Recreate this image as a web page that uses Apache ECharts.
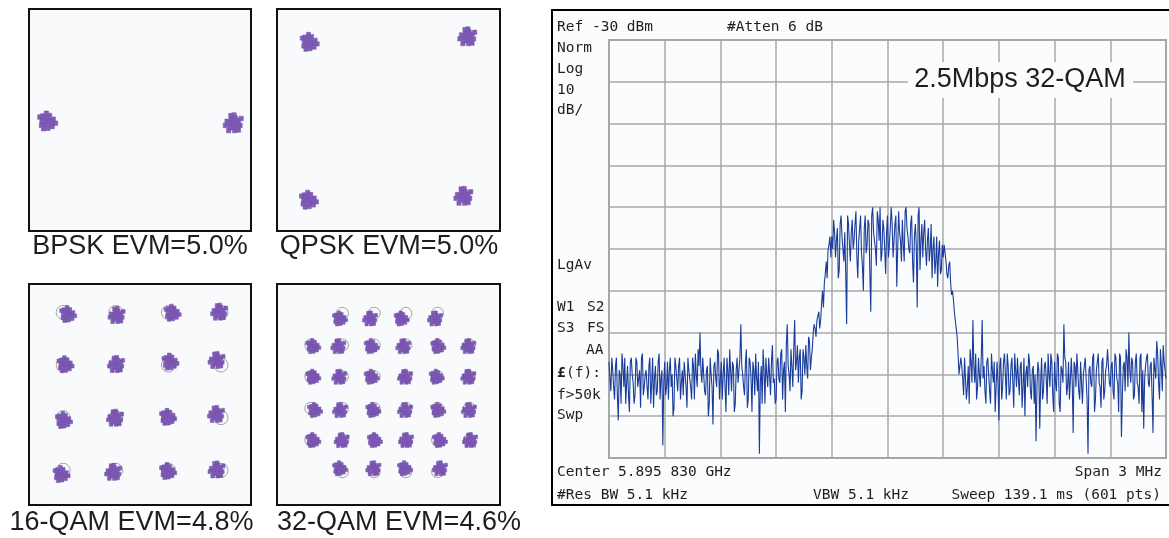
<!DOCTYPE html>
<html><head><meta charset="utf-8">
<script src="https://cdn.jsdelivr.net/npm/echarts/dist/echarts.min.js"></script>
<style>html,body{margin:0;padding:0;background:#fff}#c{width:1169px;height:538px}</style>
</head><body><div id="c"></div>
<script>
// ---------- DATA ----------
const panelTitles = ['BPSK EVM=5.0%', 'QPSK EVM=5.0%', '16-QAM EVM=4.8%', '32-QAM EVM=4.6%'];

const bpskClusters = [[-0.99, -0.01], [1.0, -0.03]];
const qpskClusters = [[-1.01, 1.0], [1.01, 1.07], [-1.02, -1.02], [0.96, -0.97]];

const qam16Clusters = [
  [-2.81, 2.94], [-0.97, 2.90], [1.16, 2.99], [2.93, 3.03],
  [-2.91, 1.03], [-0.99, 1.04], [1.08, 1.13], [2.83, 1.19],
  [-2.97, -1.09], [-1.03, -1.00], [0.99, -0.97], [2.81, -0.86],
  [-3.06, -3.14], [-1.10, -3.06], [0.99, -3.03], [2.83, -2.97]
];
const qam16Ideal = [
  [-3, 3], [-1, 3], [1, 3], [3, 3],
  [-3, 1], [-1, 1], [1, 1], [3, 1],
  [-3, -1], [-1, -1], [1, -1], [3, -1],
  [-3, -3], [-1, -3], [1, -3], [3, -3]
];

const qam32Clusters = [
  [-3.15, 4.68], [-1.26, 4.68], [0.74, 4.68], [2.84, 4.68],
  [-4.84, 2.93], [-3.26, 2.93], [-1.15, 2.93], [0.84, 2.93], [3.05, 2.93], [4.94, 2.93],
  [-4.84, 1.00], [-3.20, 1.00], [-1.15, 1.00], [0.95, 1.00], [2.95, 1.00], [4.94, 1.00],
  [-4.73, -1.10], [-3.15, -1.10], [-1.05, -1.10], [0.95, -1.10], [3.05, -1.10], [4.98, -1.10],
  [-4.84, -3.00], [-3.05, -3.00], [-0.95, -3.00], [1.01, -3.00], [3.15, -3.00], [5.05, -3.00],
  [-3.15, -4.78], [-1.05, -4.78], [0.95, -4.78], [3.15, -4.78]
];
const qam32Ideal = [
  [-3, 5], [-1, 5], [1, 5], [3, 5],
  [-5, 3], [-3, 3], [-1, 3], [1, 3], [3, 3], [5, 3],
  [-5, 1], [-3, 1], [-1, 1], [1, 1], [3, 1], [5, 1],
  [-5, -1], [-3, -1], [-1, -1], [1, -1], [3, -1], [5, -1],
  [-5, -3], [-3, -3], [-1, -3], [1, -3], [3, -3], [5, -3],
  [-3, -5], [-1, -5], [1, -5], [3, -5]
];

// spectrum trace, dBm: even sweep points (301) ...
const noiseLeft = [
  -107,-114,-109,-116,-106,-121,-110,-105,-113,-117,
  -108,-119,-106,-112,-115,-107,-111,-118,-105,-113,
  -109,-116,-106,-112,-118,-108,-114,-105,-111,-127,
  -107,-113,-116,-106,-110,-118,-108,-114,-106,-112,
  -115,-107,-118,-109,-113,-106,-116,-110,-104,-100,
  -112,-106,-115,-108,-117,-110,-122,-107,-113,-105,
  -111,-116,-106,-119,-109,-104,-114,-108,-117,-106,
  -112,-98,-110,-115,-104,-116,-107,-119,-109,-105,
  -114,-129,-108,-104,-117,-110,-106,-115,-103,-111,
  -116,-106,-112,-104,-109,-119,-98,-110,-104,-113,
  -97,-107,-112,-104,-114,-106,-103,-111,-102,-106,-100
];
const risingEdge = [-99,-97,-95,-97,-90,-88,-83,-80,-77];
const plateau = [
  -77,-73,-82,-75,-85,-72,-80,-76,-98,-74,
  -83,-73,-78,-71,-87,-75,-81,-90,-72,-79,
  -74,-95,-70,-78,-84,-73,-70,-81,-75,-86,
  -72,-79,-70,-82,-74,-89,-71,-78,-73,-83,
  -70,-77,-81,-72,-88,-74,-94,-70,-78,-82,
  -73,-84,-75,-80,-87,-77,-83,-89,-78,-85,-82
];
const fallingEdge = [-81,-86,-84,-88,-90,-95,-99,-105,-108];
const noiseRight = [
  -108,-115,-106,-113,-117,-107,-97,-112,-116,-106,
  -113,-97,-108,-117,-106,-114,-105,-112,-119,-107,
  -121,-106,-113,-105,-116,-108,-114,-106,-118,-109,
  -106,-115,-107,-113,-120,-108,-105,-114,-109,-117,
  -126,-107,-123,-106,-114,-107,-117,-110,-105,-115,
  -107,-114,-106,-119,-109,-98,-107,-113,-116,-106,
  -124,-108,-105,-114,-107,-117,-110,-106,-129,-108,
  -113,-105,-116,-107,-112,-118,-106,-114,-108,-104,
  -113,-107,-116,-106,-112,-105,-125,-108,-114,-106,
  -100,-112,-107,-115,-105,-113,-106,-119,-123,-108,
  -105,-113,-107,-124,-106,-102,-112,-104,-114,-107,-111
];
// ... and odd sweep points (300)
const oddNoiseLeft = [
  -111,-106,-113,-108,-115,-109,-117,-108,-106,-112,
  -115,-107,-110,-117,-106,-113,-109,-106,-115,-110,
  -113,-108,-117,-106,-111,-115,-107,-116,-109,-112,
  -115,-107,-109,-113,-120,-106,-111,-108,-116,-109,
  -107,-113,-106,-111,-116,-108,-105,-113,-108,-109,
  -106,-114,-109,-120,-106,-113,-108,-111,-104,-116,
  -107,-110,-113,-106,-115,-109,-107,-119,-109,-112,
  -106,-108,-113,-107,-118,-106,-111,-107,-115,-111,
  -107,-112,-117,-109,-106,-113,-110,-107,-112,-117,
  -107,-111,-105,-116,-107,-103,-108,-114,-108,-104,
  -109,-103,-106,-116,-104,-110,-108,-101,-109,-104,-98
];
const oddRisingEdge = [-101,-96,-99,-93,-94,-86,-87,-79,-82];
const oddPlateau = [
  -80,-76,-78,-87,-74,-77,-83,-86,-72,-79,
  -76,-80,-74,-82,-78,-72,-84,-75,-81,-73,
  -86,-72,-76,-80,-71,-78,-83,-73,-80,-76,
  -82,-75,-74,-78,-72,-80,-76,-83,-79,-71,
  -75,-80,-74,-83,-77,-79,-72,-85,-74,-76,
  -80,-78,-83,-74,-80,-86,-77,-81,-86,-79
];
const oddFallingEdge = [-79,-83,-87,-83,-91,-92,-97,-101,-110,-106];
const oddNoiseRight = [
  -111,-106,-116,-108,-104,-112,-108,-105,-113,-110,
  -106,-111,-114,-107,-110,-117,-109,-107,-113,-112,
  -108,-116,-107,-110,-105,-115,-108,-112,-105,-113,
  -111,-108,-118,-106,-110,-113,-107,-116,-108,-110,
  -113,-109,-112,-116,-108,-111,-105,-113,-107,-119,
  -112,-105,-117,-108,-112,-106,-115,-107,-111,-112,
  -107,-113,-109,-116,-107,-110,-106,-116,-109,-112,
  -106,-119,-109,-105,-113,-107,-116,-109,-104,-112,
  -108,-114,-105,-111,-119,-106,-115,-107,-104,-113,
  -109,-106,-116,-107,-112,-117,-105,-109,-111,-106,
  -112,-108,-115,-106,-111,-105,-116,-108,-103,-109
];
const evenPts = noiseLeft.concat(risingEdge, plateau, fallingEdge, noiseRight);
const oddPts = oddNoiseLeft.concat(oddRisingEdge, oddPlateau, oddFallingEdge, oddNoiseRight);
const spectrumDbm = [];
evenPts.forEach((v, i) => { spectrumDbm.push(v); if (i < oddPts.length) spectrumDbm.push(oddPts[i]); });

const refLevel = -30, bottomLevel = -130, dbPerDiv = 10;
const analyzerLabels = {
  ref: 'Ref -30 dBm', atten: '#Atten 6 dB', norm: 'Norm', log: 'Log', scale: '10', unit: 'dB/',
  lgav: 'LgAv', w1: 'W1', s2: 'S2', s3: 'S3', fs: 'FS', aa: 'AA', lf: '(f):', lfSym: '£',
  f50: 'f>50k', swp: 'Swp', center: 'Center 5.895 830 GHz', span: 'Span 3 MHz',
  rbw: '#Res BW 5.1 kHz', vbw: 'VBW 5.1 kHz', sweep: 'Sweep 139.1 ms (601 pts)'
};
const spectrumTitle = '2.5Mbps 32-QAM';

// ---------- STYLE: marker shapes (clouds of small square markers) ----------
const cloudA = [[30,32],[44,26],[38,40],[24,46],[50,44],[34,54],[48,56],[26,60],[56,34],[40,16],
  [14,38],[62,52],[20,70],[56,68],[42,70],[8,52],[66,28],[28,18],[52,60],[36,30]];
const cloudB = [[28,28],[42,30],[36,44],[22,42],[52,40],[30,56],[46,54],[58,48],[38,14],[20,58],
  [64,36],[14,28],[44,68],[28,70],[60,62],[50,22],[72,50],[34,36],[46,42],[24,24]];
const toPath = sq => 'path://' + sq.map(([x, y]) => 'M' + x + ' ' + y + 'h16v16h-16Z').join('');
const symA = toPath(cloudA), symB = toPath(cloudB);

// ---------- CHART ----------
const chart = echarts.init(document.getElementById('c'));
const N = spectrumDbm.length - 1;

const panels = [
  {left: 29, top: 9, width: 222, height: 222, x: [-1.19, 1.19], y: [-1.19, 1.19], c: bpskClusters, ideal: null, s: 20},
  {left: 277, top: 9, width: 223, height: 222, x: [-1.43, 1.43], y: [-1.42, 1.42], c: qpskClusters, ideal: null, s: 19},
  {left: 29, top: 284, width: 222, height: 221, x: [-4.30, 4.14], y: [-4.32, 4.08], c: qam16Clusters, ideal: qam16Ideal, s: 17, r: 14},
  {left: 277, top: 284, width: 223, height: 221, x: [-7.13, 6.94], y: [-7.10, 6.85], c: qam32Clusters, ideal: qam32Ideal, s: 15, r: 12}
];

const grid = [], xAxis = [], yAxis = [], series = [];
panels.forEach((p, i) => {
  grid.push({left: p.left, top: p.top, width: p.width, height: p.height, show: true,
    borderColor: '#111', borderWidth: 2, backgroundColor: '#f8fafc'});
  xAxis.push({type: 'value', gridIndex: i, min: p.x[0], max: p.x[1], show: false});
  yAxis.push({type: 'value', gridIndex: i, min: p.y[0], max: p.y[1], show: false});
  if (p.ideal) {
    series.push({type: 'scatter', xAxisIndex: i, yAxisIndex: i, data: p.ideal, symbol: 'circle',
      symbolSize: p.r, z: 2, silent: true,
      itemStyle: {color: 'rgba(0,0,0,0)', borderColor: '#8f8f8f', borderWidth: 1}});
  }
  series.push({type: 'scatter', xAxisIndex: i, yAxisIndex: i, data: p.c,
    symbol: (v, prm) => (prm.dataIndex % 2 ? symA : symB),
    symbolSize: p.s, z: 3, silent: true,
    itemStyle: {color: '#633b9f', borderColor: '#7a55b3', borderWidth: 0.7}});
});

grid.push({left: 609, top: 40, width: 557, height: 418, show: true, borderColor: '#a4a4a4', borderWidth: 2});
xAxis.push({type: 'value', gridIndex: 4, min: 0, max: N, interval: N / 10,
  axisLine: {show: false}, axisTick: {show: false}, axisLabel: {show: false},
  splitLine: {show: true, lineStyle: {color: '#a8a8a8', width: 1.5}}});
yAxis.push({type: 'value', gridIndex: 4, min: bottomLevel, max: refLevel, interval: dbPerDiv,
  axisLine: {show: false}, axisTick: {show: false}, axisLabel: {show: false},
  splitLine: {show: true, lineStyle: {color: '#a8a8a8', width: 1.5}}});
series.push({type: 'line', xAxisIndex: 4, yAxisIndex: 4, showSymbol: false, silent: true, z: 4,
  data: spectrumDbm.map((v, i) => [i, v]),
  lineStyle: {color: '#1a3d9c', width: 1.1}});

const mono = '14.5px "DejaVu Sans Mono"';
const L = analyzerLabels;
const txt = (t, x, y, align, font) => ({type: 'text', x: x, y: y, z: 20,
  style: {text: t, font: font || mono, fill: '#1e1e1e', textAlign: align || 'left', textVerticalAlign: 'middle'}});
const sans = '27px "Liberation Sans", Arial, sans-serif';
const graphic = [
  {type: 'rect', shape: {x: 552, y: 10, width: 622, height: 495}, z: -5,
    style: {fill: '#fafcfe', stroke: '#000', lineWidth: 2}},
  txt(L.ref, 557, 27.5), txt(L.atten, 727, 27.5),
  txt(L.norm, 557, 48), txt(L.log, 557, 69), txt(L.scale, 557, 90), txt(L.unit, 557, 110),
  txt(L.lgav, 557, 265),
  txt(L.w1, 557, 307), txt(L.s2, 587, 307), txt(L.s3, 557, 328), txt(L.fs, 587, 328),
  txt(L.aa, 586, 350),
  txt(L.lfSym, 557, 373, 'left', 'bold 14.5px "DejaVu Sans Mono"'), txt(L.lf, 566, 373),
  txt(L.f50, 557, 395), txt(L.swp, 557, 415),
  txt(L.center, 557, 472), txt(L.span, 1162, 472, 'right'),
  txt(L.rbw, 557, 495), txt(L.vbw, 813, 495), txt(L.sweep, 1161, 495, 'right'),
  {type: 'rect', shape: {x: 908, y: 62, width: 225, height: 36}, z: 19, style: {fill: '#fafcfe'}},
  txt(spectrumTitle, 1020, 80, 'center', sans),
  txt(panelTitles[0], 140, 247, 'center', sans),
  txt(panelTitles[1], 389, 247, 'center', sans),
  txt(panelTitles[2], 131.5, 523, 'center', sans),
  txt(panelTitles[3], 399, 523, 'center', sans)
];

chart.setOption({animation: false, grid, xAxis, yAxis, series, graphic});
</script></body></html>
